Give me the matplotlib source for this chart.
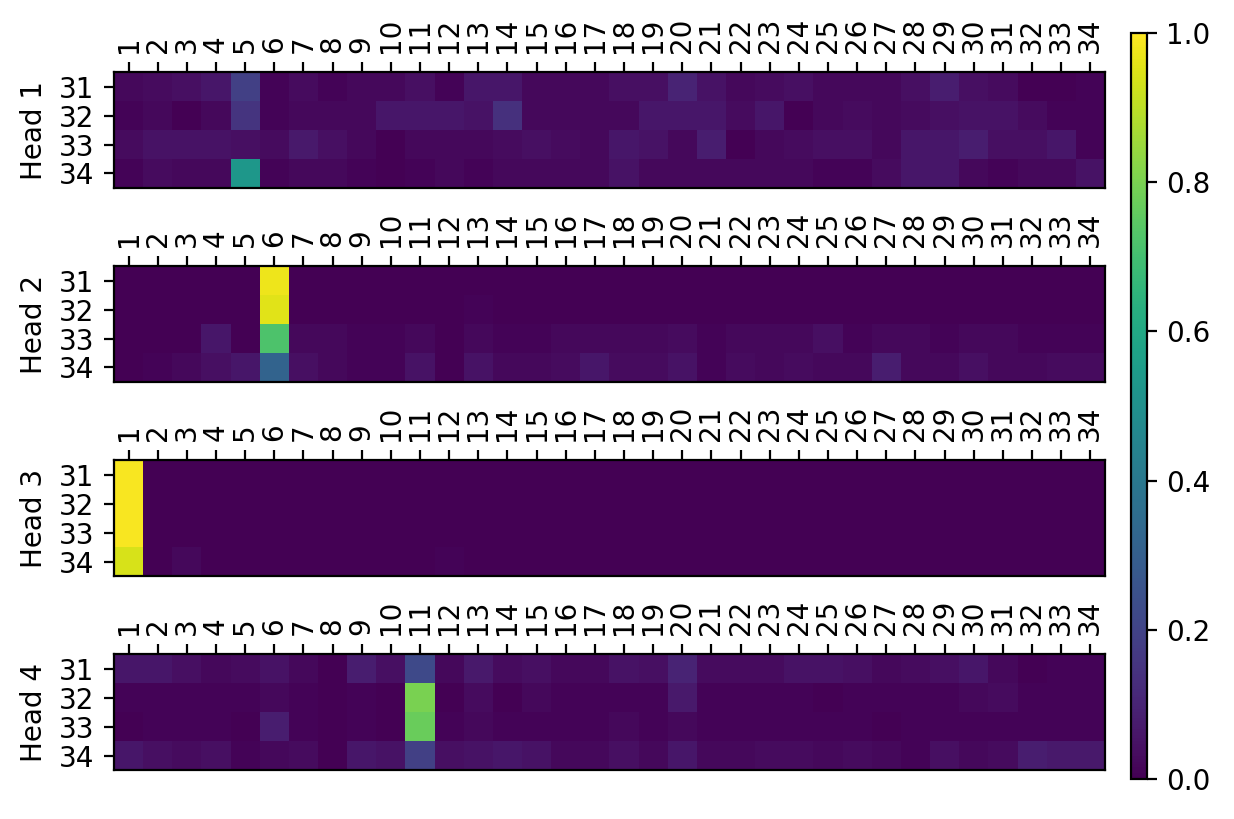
import numpy as np
import matplotlib
matplotlib.use("Agg")
import matplotlib.pyplot as plt

cols = [str(i) for i in range(1, 35)]
rows = ["31", "32", "33", "34"]
heads = ["Head 1", "Head 2", "Head 3", "Head 4"]

head1 = [
    [0.02, 0.03, 0.04, 0.06, 0.19, 0.01, 0.03, 0.01, 0.02, 0.02, 0.04, 0.01, 0.06, 0.06, 0.02, 0.02, 0.02,
     0.04, 0.04, 0.10, 0.05, 0.02, 0.03, 0.04, 0.02, 0.02, 0.02, 0.04, 0.08, 0.04, 0.03, 0.00, 0.00, 0.01],
    [0.01, 0.02, 0.00, 0.02, 0.15, 0.01, 0.02, 0.02, 0.02, 0.06, 0.06, 0.06, 0.05, 0.14, 0.02, 0.02, 0.02,
     0.02, 0.06, 0.06, 0.06, 0.03, 0.06, 0.00, 0.02, 0.03, 0.02, 0.03, 0.04, 0.05, 0.05, 0.03, 0.01, 0.01],
    [0.03, 0.05, 0.05, 0.05, 0.04, 0.03, 0.07, 0.04, 0.02, 0.00, 0.02, 0.02, 0.02, 0.03, 0.04, 0.03, 0.02,
     0.06, 0.05, 0.02, 0.08, 0.00, 0.02, 0.03, 0.04, 0.04, 0.02, 0.06, 0.06, 0.08, 0.04, 0.04, 0.06, 0.01],
    [0.01, 0.03, 0.02, 0.02, 0.53, 0.01, 0.02, 0.02, 0.01, 0.00, 0.01, 0.02, 0.01, 0.02, 0.02, 0.02, 0.02,
     0.05, 0.02, 0.02, 0.02, 0.02, 0.02, 0.02, 0.01, 0.01, 0.03, 0.06, 0.06, 0.02, 0.01, 0.02, 0.02, 0.05],
]
head2 = [
    [0.00, 0.00, 0.00, 0.00, 0.00, 0.975, 0.00, 0.00, 0.00, 0.00, 0.00, 0.00, 0.00, 0.00, 0.00, 0.00, 0.00,
     0.00, 0.00, 0.00, 0.00, 0.00, 0.00, 0.00, 0.00, 0.00, 0.00, 0.00, 0.00, 0.00, 0.00, 0.00, 0.00, 0.00],
    [0.00, 0.00, 0.00, 0.00, 0.00, 0.955, 0.00, 0.00, 0.00, 0.00, 0.00, 0.00, 0.01, 0.00, 0.00, 0.00, 0.00,
     0.00, 0.00, 0.00, 0.00, 0.00, 0.00, 0.00, 0.00, 0.00, 0.00, 0.00, 0.00, 0.00, 0.00, 0.00, 0.00, 0.00],
    [0.00, 0.00, 0.00, 0.06, 0.00, 0.72, 0.02, 0.02, 0.01, 0.01, 0.02, 0.00, 0.02, 0.01, 0.01, 0.02, 0.02,
     0.02, 0.02, 0.03, 0.01, 0.02, 0.02, 0.02, 0.04, 0.01, 0.02, 0.02, 0.01, 0.02, 0.02, 0.01, 0.01, 0.01],
    [0.00, 0.01, 0.02, 0.04, 0.06, 0.32, 0.04, 0.02, 0.01, 0.01, 0.05, 0.00, 0.05, 0.02, 0.02, 0.03, 0.06,
     0.03, 0.03, 0.05, 0.01, 0.03, 0.02, 0.03, 0.02, 0.02, 0.08, 0.02, 0.02, 0.04, 0.02, 0.02, 0.03, 0.03],
]
head3 = [
    [0.99] + [0.00] * 33,
    [0.99] + [0.00] * 33,
    [0.99] + [0.00] * 33,
    [0.94, 0.00, 0.02, 0.00, 0.00, 0.00, 0.00, 0.00, 0.00, 0.00, 0.00, 0.01, 0.00, 0.00, 0.00, 0.00, 0.00,
     0.00, 0.00, 0.00, 0.00, 0.00, 0.00, 0.00, 0.00, 0.00, 0.00, 0.00, 0.00, 0.00, 0.00, 0.00, 0.00, 0.00],
]
head4 = [
    [0.06, 0.06, 0.04, 0.02, 0.03, 0.05, 0.02, 0.00, 0.08, 0.04, 0.22, 0.02, 0.07, 0.03, 0.04, 0.02, 0.02,
     0.05, 0.04, 0.10, 0.03, 0.03, 0.03, 0.05, 0.05, 0.04, 0.02, 0.03, 0.04, 0.06, 0.02, 0.00, 0.01, 0.01],
    [0.01, 0.01, 0.01, 0.01, 0.01, 0.02, 0.01, 0.00, 0.01, 0.00, 0.80, 0.00, 0.03, 0.00, 0.02, 0.01, 0.01,
     0.01, 0.01, 0.07, 0.01, 0.01, 0.01, 0.01, 0.00, 0.01, 0.01, 0.01, 0.01, 0.02, 0.03, 0.01, 0.01, 0.01],
    [0.00, 0.01, 0.01, 0.01, 0.00, 0.08, 0.01, 0.00, 0.01, 0.00, 0.77, 0.01, 0.02, 0.01, 0.01, 0.01, 0.01,
     0.02, 0.01, 0.02, 0.01, 0.01, 0.01, 0.01, 0.01, 0.01, 0.00, 0.01, 0.01, 0.01, 0.01, 0.01, 0.01, 0.01],
    [0.06, 0.04, 0.03, 0.04, 0.01, 0.02, 0.03, 0.00, 0.06, 0.05, 0.19, 0.04, 0.05, 0.06, 0.05, 0.02, 0.02,
     0.04, 0.02, 0.06, 0.02, 0.02, 0.03, 0.03, 0.02, 0.03, 0.02, 0.01, 0.04, 0.02, 0.03, 0.08, 0.07, 0.07],
]
all_heads = [head1, head2, head3, head4]

fig = plt.figure(figsize=(6.17, 4.095), dpi=200)
left, width = 0.0924, 0.803
bottoms = [0.7705, 0.5336, 0.2967, 0.0598]
h = 0.1415
im = None
for data, name, b in zip(all_heads, heads, bottoms):
    ax = fig.add_axes([left, b, width, h])
    im = ax.imshow(np.array(data), cmap="viridis", vmin=0, vmax=1, aspect="auto")
    ax.set_xticks(range(len(cols)))
    ax.set_xticklabels(cols, rotation=90)
    ax.set_yticks(range(len(rows)))
    ax.set_yticklabels(rows)
    ax.xaxis.tick_top()
    ax.set_ylabel(name)

cax = fig.add_axes([0.9165, 0.0488, 0.013, 0.911])
fig.colorbar(im, cax=cax)
fig.savefig("out.png", dpi=200)
